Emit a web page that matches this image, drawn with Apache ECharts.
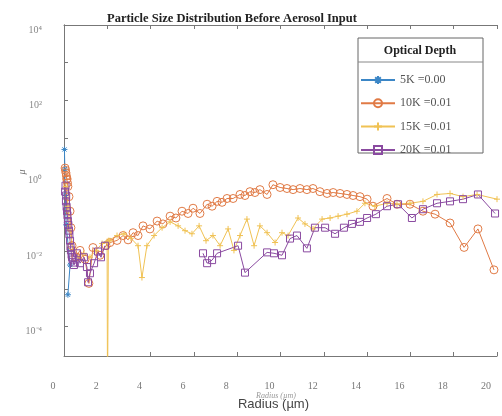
<!DOCTYPE html>
<html>
<head>
<meta charset="utf-8">
<script src="https://cdn.jsdelivr.net/npm/echarts@6/dist/echarts.min.js"></script>
<style>
  html, body { margin: 0; padding: 0; background: #fff; }
  #chart { width: 502px; height: 416px; }
</style>
</head>
<body>
<div id="chart"></div>
<script>
const chartTitle = 'Particle Size Distribution Before Aerosol Input';
const legendTitle = 'Optical Depth';
const xAxisName = 'Radius (µm)';
const yAxisName = 'μ';
const seriesNames = ['5K =0.00', '10K =0.01', '15K =0.01', '20K =0.01'];

const xTickLabels = ['0', '2', '4', '6', '8', '10', '12', '14', '16', '18', '20'];
const yTickValues = [1e-4, 1e-2, 1, 1e2, 1e4];
const yTickLabels = ['10⁻⁴', '10⁻²', '10⁰', '10²', '10⁴'];

// [radius, value]
const data5K = [
  [0.02, 5.0], [0.04, 1.5], [0.06, 0.3], [0.1, 0.05], [0.28, 0.0043], [0.18, 0.0007]
];

const data10K = [
  [0.05, 1.6], [0.07, 1.4], [0.09, 1.2], [0.11, 1.0], [0.13, 0.8], [0.14, 0.84],
  [0.16, 0.65], [0.18, 0.52], [0.23, 0.28], [0.28, 0.115], [0.32, 0.042],
  [0.37, 0.014], [0.55, 0.007], [0.74, 0.0105], [0.97, 0.0061], [1.15, 0.0014],
  [1.34, 0.0125], [1.66, 0.0078], [1.94, 0.0141], [2.12, 0.0169], [2.45, 0.0193],
  [2.73, 0.026], [2.96, 0.020], [3.19, 0.031], [3.42, 0.026], [3.65, 0.047],
  [3.97, 0.039], [4.30, 0.063], [4.57, 0.053], [4.90, 0.085], [5.17, 0.076],
  [5.45, 0.115], [5.73, 0.10], [5.96, 0.138], [6.28, 0.10], [6.61, 0.176],
  [6.84, 0.156], [7.07, 0.21], [7.30, 0.198], [7.53, 0.25], [7.81, 0.25],
  [8.13, 0.32], [8.36, 0.30], [8.59, 0.38], [8.82, 0.36], [9.05, 0.43],
  [9.38, 0.32], [9.65, 0.58], [9.98, 0.49], [10.30, 0.46], [10.58, 0.43],
  [10.90, 0.46], [11.22, 0.43], [11.50, 0.46], [11.82, 0.38], [12.15, 0.34],
  [12.43, 0.36], [12.75, 0.34], [13.07, 0.32], [13.35, 0.30], [13.67, 0.28],
  [14.00, 0.24], [14.27, 0.156], [14.92, 0.25], [15.38, 0.176], [15.98, 0.176],
  [16.58, 0.115], [17.14, 0.096], [17.83, 0.056], [18.48, 0.0126], [19.12, 0.039],
  [19.86, 0.0032]
];

const data15K = [
  [0.09, 0.52], [0.18, 0.156], [0.28, 0.035], [0.42, 0.0105], [0.65, 0.0069],
  [0.92, 0.0088], [1.20, 0.0069], [1.48, 0.0105], [1.76, 0.016], [1.99, 0.018],
  [2.01, 0.000001], [2.05, 0.019], [2.12, 0.019], [2.45, 0.026], [2.77, 0.029],
  [3.09, 0.022], [3.42, 0.014], [3.60, 0.0020], [3.83, 0.014], [4.16, 0.026],
  [4.53, 0.042], [4.90, 0.060], [5.27, 0.047], [5.59, 0.035], [5.91, 0.029],
  [6.24, 0.047], [6.56, 0.019], [6.88, 0.026], [7.21, 0.014], [7.58, 0.039],
  [7.85, 0.0105], [8.13, 0.026], [8.45, 0.071], [8.78, 0.014], [9.05, 0.047],
  [9.38, 0.031], [9.75, 0.017], [10.07, 0.031], [10.35, 0.026], [10.81, 0.076],
  [11.13, 0.053], [11.50, 0.039], [11.92, 0.071], [12.29, 0.076], [12.66, 0.085],
  [13.07, 0.096], [13.53, 0.115], [13.90, 0.187], [14.36, 0.156], [14.92, 0.187],
  [15.38, 0.176], [15.98, 0.187], [16.58, 0.21], [17.23, 0.32], [17.83, 0.34],
  [18.43, 0.28], [19.08, 0.32], [20.00, 0.24]
];

const data20K = [
  [0.05, 0.38], [0.07, 0.55], [0.09, 0.21], [0.10, 0.30], [0.12, 0.15],
  [0.14, 0.115], [0.16, 0.09], [0.18, 0.063], [0.20, 0.05], [0.23, 0.035],
  [0.25, 0.028], [0.28, 0.019], [0.30, 0.013], [0.32, 0.0105], [0.35, 0.008],
  [0.37, 0.0069], [0.40, 0.006], [0.46, 0.0043], [0.50, 0.005], [0.60, 0.0088],
  [0.74, 0.0048], [0.92, 0.0069], [1.06, 0.0038], [1.11, 0.0015], [1.20, 0.0026],
  [1.39, 0.0048], [1.57, 0.0098], [1.71, 0.0069], [1.89, 0.014],
  [4.0, '-'],
  [6.42, 0.0088], [6.61, 0.0048], [6.84, 0.0058], [7.07, 0.0088], [8.04, 0.014],
  [8.36, 0.0027], [9.38, 0.0093], [9.70, 0.0088], [10.07, 0.0078], [10.44, 0.0216],
  [10.76, 0.026], [11.22, 0.0119], [11.59, 0.042], [12.06, 0.042], [12.52, 0.029],
  [12.93, 0.042], [13.30, 0.053], [13.67, 0.060], [14.00, 0.076], [14.41, 0.096],
  [14.92, 0.156], [15.43, 0.176], [16.07, 0.076], [16.58, 0.13], [17.23, 0.187],
  [17.83, 0.21], [18.43, 0.24], [19.12, 0.32], [19.91, 0.10]
];

const colors = ['#3b86c6', '#e07a45', '#f0c254', '#8a4aa0'];
const serif = 'Liberation Serif';
const frameColor = '#777';

const chart = echarts.init(document.getElementById('chart'));

const makeSeries = (name, data, color, symbol, size) => ({
  name: name,
  type: 'line',
  data: data,
  symbol: symbol,
  symbolSize: size,
  showSymbol: true,
  lineStyle: { color: color, width: 1 },
  itemStyle: { color: 'transparent', borderColor: color, borderWidth: 1 },
  emphasis: { disabled: true },
  animation: false
});

const option = {
  animation: false,
  title: {
    text: chartTitle,
    left: 102,
    top: 7,
    textStyle: { fontFamily: serif, fontWeight: 'bold', fontSize: 12.5, color: '#222' }
  },
  grid: { left: 64, right: 5, top: 25, bottom: 53 },
  legend: {
    data: seriesNames,
    orient: 'vertical',
    left: 360,
    top: 74,
    padding: 0,
    itemWidth: 34,
    itemHeight: 10,
    itemGap: 11.3,
    textStyle: { fontFamily: serif, fontSize: 12, color: '#555' }
  },
  xAxis: [
    {
      type: 'value',
      min: 0,
      max: 20,
      interval: 2,
      name: xAxisName,
      nameLocation: 'middle',
      nameGap: 42,
      nameTextStyle: { fontFamily: 'Liberation Sans', fontSize: 13, color: '#444', padding: [0, 14, 0, 0] },
      axisLine: { lineStyle: { color: frameColor } },
      axisTick: { inside: true, length: 4, lineStyle: { color: frameColor } },
      axisLabel: {
        formatter: (v) => xTickLabels[Math.round(v / 2)],
        fontFamily: serif,
        fontSize: 10,
        color: '#777',
        margin: 25,
        padding: [0, 22, 0, 0]
      },
      splitLine: { show: false }
    },
    {
      type: 'value',
      position: 'top',
      min: 0,
      max: 20,
      interval: 2,
      axisLine: { lineStyle: { color: frameColor } },
      axisTick: { inside: true, length: 4, lineStyle: { color: frameColor } },
      axisLabel: { show: false },
      splitLine: { show: false }
    }
  ],
  yAxis: [
    {
      type: 'log',
      position: 'left',
      min: 1.66e-5,
      max: 1e4,
      axisLine: { show: true, lineStyle: { color: frameColor } },
      axisTick: { show: true, inside: true, length: 4, lineStyle: { color: frameColor } },
      axisLabel: {
        customValues: yTickValues,
        formatter: (v) => yTickLabels[yTickValues.findIndex(t => Math.abs(Math.log10(t) - Math.log10(v)) < 0.01)],
        fontFamily: serif,
        fontSize: 10,
        color: '#888',
        margin: 22,
        verticalAlign: 'top'
      },
      splitLine: { show: false }
    },
    {
      type: 'log',
      position: 'right',
      min: 1.66e-5,
      max: 1e4,
      axisLine: { show: true, lineStyle: { color: frameColor } },
      axisTick: { show: false },
      axisLabel: { show: false },
      splitLine: { show: false }
    }
  ],
  graphic: [
    {
      type: 'rect', z: 1,
      shape: { x: 358, y: 38, width: 125, height: 115 },
      style: { fill: '#fff', stroke: '#666', lineWidth: 1 }
    },
    {
      type: 'line', z: 1,
      shape: { x1: 358, y1: 62, x2: 483, y2: 62 },
      style: { stroke: '#888', lineWidth: 1 }
    },
    {
      type: 'text', z: 10,
      x: 420, y: 51,
      style: {
        text: legendTitle, fill: '#222', font: 'bold 12px "Liberation Serif"',
        textAlign: 'center', textVerticalAlign: 'middle'
      }
    },
    {
      type: 'text', z: 10,
      x: 22, y: 172, rotation: Math.PI / 2,
      style: {
        text: yAxisName, fill: '#777', font: 'italic 10px "Liberation Serif"',
        textAlign: 'center', textVerticalAlign: 'middle'
      }
    },
    {
      type: 'text', z: 10,
      x: 276, y: 396,
      style: {
        text: xAxisName, fill: '#999', font: 'italic 8px "Liberation Serif"',
        textAlign: 'center', textVerticalAlign: 'middle'
      }
    }
  ],
  series: [
    makeSeries(seriesNames[0], data5K, colors[0],
      'path://M0,-5L0,5M-5,0L5,0M-3.5,-3.5L3.5,3.5M-3.5,3.5L3.5,-3.5', 6),
    makeSeries(seriesNames[1], data10K, colors[1], 'circle', 8),
    makeSeries(seriesNames[2], data15K, colors[2], 'path://M0,-5L0,5M-5,0L5,0', 6),
    makeSeries(seriesNames[3], data20K, colors[3], 'rect', 7)
  ]
};

chart.setOption(option);
</script>
</body>
</html>
